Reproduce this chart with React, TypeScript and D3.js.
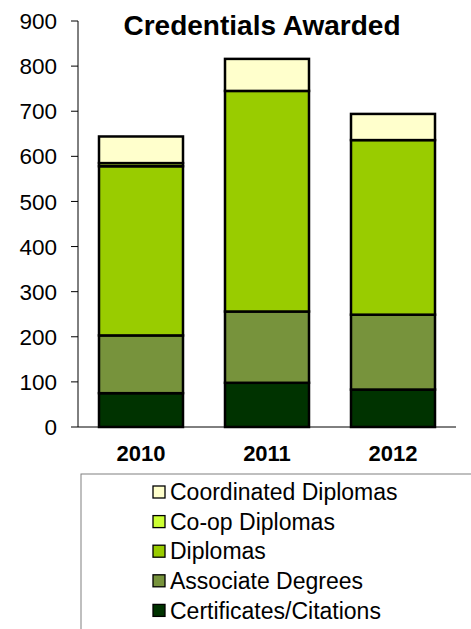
import React from 'react';
import * as d3 from 'd3';

const years = ['2010', '2011', '2012'];
const certificates = [75, 98, 83];
const associate = [128, 158, 166];
const diplomas = [375, 489, 387];
const coop = [7, 0, 0];
const coordinated = [59, 71, 58];

const seriesNames = [
  'Certificates/Citations',
  'Associate Degrees',
  'Diplomas',
  'Co-op Diplomas',
  'Coordinated Diplomas',
];
const seriesColors = ['#003300', '#77933C', '#99CC00', '#CCFF33', '#FFFFCC'];
const yTicks = [0, 100, 200, 300, 400, 500, 600, 700, 800, 900];

const font = '"Liberation Sans", Arial, sans-serif';

const App: React.FC = () => {
  const width = 471;
  const height = 629;
  const left = 78;
  const right = 456;
  const top = 21;
  const bottom = 427;

  const rows = years.map((y, i) => ({
    year: y,
    s0: certificates[i],
    s1: associate[i],
    s2: diplomas[i],
    s3: coop[i],
    s4: coordinated[i],
  }));
  const keys = ['s0', 's1', 's2', 's3', 's4'];
  const stacked = d3.stack<any>().keys(keys)(rows);

  const x = d3.scaleBand().domain(years).range([left, right]).paddingInner(1 / 3).paddingOuter(1 / 6);
  const y = d3.scaleLinear().domain([0, 900]).range([bottom, top]);

  const legendOrder = [4, 3, 2, 1, 0];

  return (
    <svg
      width={width}
      height={height}
      style={{ position: 'absolute', left: 0, top: 0, background: '#fff' }}
      fontFamily={font}
    >
      <text x={262} y={35} textAnchor="middle" fontSize={28} fontWeight="bold">
        Credentials Awarded
      </text>

      {stacked.map((layer, li) =>
        layer.map((d, i) => {
          const h = y(d[0]) - y(d[1]);
          if (h <= 0) return null;
          return (
            <rect
              key={`${li}-${i}`}
              x={x(years[i])}
              y={y(d[1])}
              width={x.bandwidth()}
              height={h}
              fill={seriesColors[li]}
              stroke="#000"
              strokeWidth={2.5}
            />
          );
        })
      )}

      {/* y axis */}
      <line x1={left} x2={left} y1={top} y2={bottom} stroke="#000" />
      {yTicks.map((t) => (
        <g key={t}>
          <line x1={left - 7} x2={left} y1={y(t)} y2={y(t)} stroke="#000" />
          <text x={57} y={y(t)} dy="0.36em" textAnchor="end" fontSize={22.5}>
            {t}
          </text>
        </g>
      ))}

      {/* x axis */}
      <line x1={left} x2={right} y1={bottom} y2={bottom} stroke="#000" />
      {years.map((yr) => (
        <text
          key={yr}
          x={(x(yr) as number) + x.bandwidth() / 2}
          y={461}
          textAnchor="middle"
          fontSize={22}
          fontWeight="bold"
        >
          {yr}
        </text>
      ))}

      {/* legend */}
      <rect x={81} y={474} width={400} height={170} fill="#fff" stroke="#808080" />
      {legendOrder.map((si, j) => {
        const cy = 492 + j * 29.6;
        return (
          <g key={si}>
            <rect x={153} y={cy - 6} width={12} height={12} fill={seriesColors[si]} stroke="#000" strokeWidth={1.3} />
            <text x={170} y={cy} dy="0.36em" fontSize={23}>
              {seriesNames[si]}
            </text>
          </g>
        );
      })}
    </svg>
  );
};

export default App;
